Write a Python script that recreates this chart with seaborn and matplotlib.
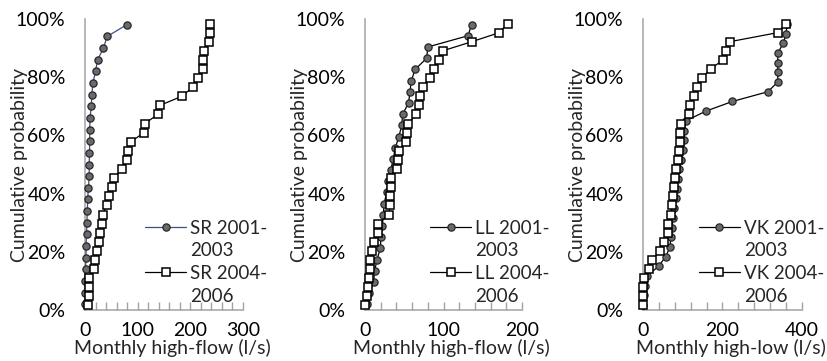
import numpy as np
import matplotlib
matplotlib.use("Agg")
import matplotlib.pyplot as plt
from matplotlib.ticker import MultipleLocator, PercentFormatter
from matplotlib.lines import Line2D
import seaborn as sns

# Monthly high flows (l/s), sorted ascending, per site and period
sr_2001_2003 = [0, 0, 0.5, 1, 2, 2, 3, 3.5, 4.5, 5, 6.5, 8, 8, 8.5, 9, 9, 9.5,
                12, 13, 15, 20, 24, 35, 42, 79]
sr_2004_2006 = [5.7, 7.6, 8.2, 8.2, 17, 18.5, 23.5, 26.5, 29, 32, 33.5, 41, 45,
                50.5, 55, 70, 80, 82, 87, 112, 113.5, 138, 142, 184, 204.5, 215,
                224.5, 225, 226.5, 236, 237, 237.5]

ll_2001_2003 = [3, 5.5, 11, 12.3, 15.3, 19.5, 20.4, 22, 23.3, 24.4, 27.6, 29.7,
                32.7, 36.1, 38.6, 43.3, 46.7, 48, 55.5, 57.3, 59, 64, 78.6, 80,
                131, 136]
ll_2004_2006 = [0, 3, 3.4, 5.1, 6.4, 6.6, 9.3, 11.5, 16.2, 17, 30.6, 31.4, 31.8,
                32.7, 33.1, 40.4, 42.5, 43, 52.2, 53.9, 55.2, 65, 69.2, 70.1,
                73.5, 82.8, 88.3, 93.9, 99, 135.9, 171.1, 181.8]

vk_2001_2003 = [0, 2, 5, 10, 39, 57, 68, 70, 73, 76, 79, 82, 85, 88, 91, 96,
                101, 103, 103, 108, 158, 225, 314, 339, 339, 339, 339, 353, 360,
                362]
vk_2004_2006 = [0, 0, 1, 3, 16, 22, 43, 52, 62, 64, 70, 73, 76, 78, 81, 84, 88,
                90, 92.5, 93, 94.5, 114.5, 118, 128, 136, 148, 170, 201, 210, 218,
                339, 360]

site_codes = ["SR", "LL", "VK"]
period_labels = [("2001-", "2003"), ("2004-", "2006")]
x_titles = ["Monthly high-flow (l/s)", "Monthly high-flow (l/s)",
            "Monthly high-low (l/s)"]
x_limits = [300, 200, 400]
x_major = [100, 100, 200]
x_minor = [20, 20, 40]

sns.set_style("white")
plt.rcParams["font.family"] = ["Lato", "DejaVu Sans"]

FS = 14
LEGEND_FS = 13.5
AXIS_GREY = "#a3a3a3"
CIRCLE_FACE = "#6a6a6a"
CIRCLE_EDGE = "#262626"
first_line_colours = ["#3d4f86", "black", "black"]


def plotting_position(values):
    """Hazen plotting position of each sorted value."""
    n = len(values)
    return (np.arange(1, n + 1) - 0.5) / n


fig = plt.figure(figsize=(8.28, 3.61), dpi=100)
W, H = 828, 361
rects = [(85, 158), (365, 157), (643, 159)]
legend_anchor = [0.38, 0.414, 0.35]

series = [(sr_2001_2003, sr_2004_2006), (ll_2001_2003, ll_2004_2006),
          (vk_2001_2003, vk_2004_2006)]

for k, (left, width) in enumerate(rects):
    ax = fig.add_axes([left / W, 51 / H, width / W, 291 / H])
    early, late = series[k]

    style_early = dict(marker="o", markersize=5.2, markerfacecolor=CIRCLE_FACE,
                       markeredgecolor=CIRCLE_EDGE, markeredgewidth=0.9,
                       linewidth=0.9, color=first_line_colours[k])
    style_late = dict(marker="s", markersize=5.4, markerfacecolor="white",
                      markeredgecolor="black", markeredgewidth=1.1,
                      linewidth=0.9, color="black")

    sns.lineplot(x=early, y=plotting_position(early), estimator=None,
                 sort=False, ax=ax, clip_on=False, zorder=3, **style_early)
    sns.lineplot(x=late, y=plotting_position(late), estimator=None,
                 sort=False, ax=ax, clip_on=False, zorder=4, **style_late)

    ax.set_xlim(0, x_limits[k])
    ax.set_ylim(0, 1)
    ax.xaxis.set_major_locator(MultipleLocator(x_major[k]))
    ax.xaxis.set_minor_locator(MultipleLocator(x_minor[k]))
    ax.yaxis.set_major_locator(MultipleLocator(0.2))
    ax.yaxis.set_major_formatter(PercentFormatter(1.0, decimals=0))

    for side in ("top", "right"):
        ax.spines[side].set_visible(False)
    for side in ("left", "bottom"):
        ax.spines[side].set_color(AXIS_GREY)
        ax.spines[side].set_linewidth(1.1)

    ax.tick_params(axis="y", which="major", direction="out", length=5,
                   width=1, color=AXIS_GREY, labelsize=FS, pad=9,
                   labelcolor="black")
    ax.tick_params(axis="x", which="both", direction="in", length=6,
                   width=1, color=AXIS_GREY, labelsize=FS, pad=9,
                   labelcolor="black", bottom=True)

    ax.set_xlabel(x_titles[k], fontsize=FS)
    ax.set_ylabel("Cumulative probability", fontsize=FS)
    ax.xaxis.set_label_coords(0.55, -0.1)
    ax.yaxis.set_label_coords(-0.36, 0.5)

    code = site_codes[k]
    handles = [
        Line2D([], [], **style_early),
        Line2D([], [], linestyle="none", marker=None),
        Line2D([], [], **style_late),
        Line2D([], [], linestyle="none", marker=None),
    ]
    labels = [f"{code} {period_labels[0][0]}", period_labels[0][1],
              f"{code} {period_labels[1][0]}", period_labels[1][1]]
    ax.legend(handles, labels, loc="upper left",
              bbox_to_anchor=(legend_anchor[k], 0.31), frameon=False,
              fontsize=LEGEND_FS, handlelength=2.2, handletextpad=0.2,
              borderpad=0, borderaxespad=0, labelspacing=0.3)

fig.savefig("out.png", dpi=100)
